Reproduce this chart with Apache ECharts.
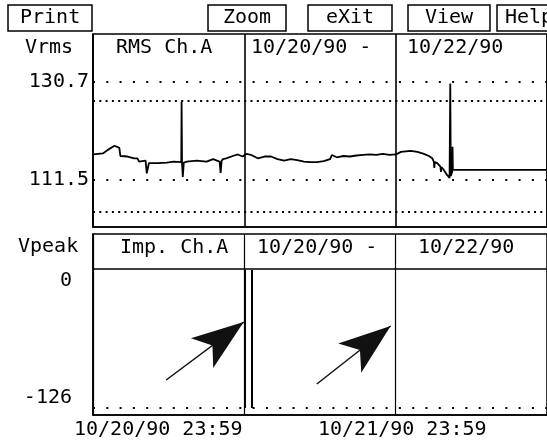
<!DOCTYPE html>
<html>
<head>
<meta charset="utf-8">
<script src="https://cdn.jsdelivr.net/npm/echarts@6/dist/echarts.min.js"></script>
<style>
html,body{margin:0;padding:0;background:#fff;}
#c{width:547px;height:442px;}
</style>
</head>
<body>
<div id="c"></div>
<script>
// ---- data ----
const buttons = ['Print', 'Zoom', 'eXit', 'View', 'Help'];
const topHeaders = ['RMS Ch.A', '10/20/90 -', '10/22/90'];
const bottomHeaders = ['Imp. Ch.A', '10/20/90 -', '10/22/90'];
const topUnit = 'Vrms';
const bottomUnit = 'Vpeak';
const dateLabels = ['10/20/90 23:59', '10/21/90 23:59'];

// hours since 10/20/90 00:00
const hours = [0, 0.27, 1.57, 2.35, 3.40, 4.18, 4.34, 5.48, 6.53, 7.04, 7.31, 8.34, 8.53, 8.87, 10.17, 11.74, 12.79,
  14.0, 14.05, 14.12, 14.24, 14.4, 14.87, 16.43, 18.0, 19.05, 20.08, 20.24, 20.39, 20.61, 21.13, 22.18, 22.96, 23.74,
  24.26, 25.09, 26.14, 27.19, 28.22, 29.27, 30.32, 31.35, 32.4, 33.45, 34.48, 35.53, 36.58, 37.61, 37.88, 38.66,
  39.71, 40.74, 41.79, 42.84, 43.87, 44.92, 45.97, 47.0, 48.05, 48.83, 50.4, 51.45, 52.48, 53.26, 53.8, 54.05,
  54.13, 54.2, 54.58, 55.1, 55.18, 55.25, 55.61, 56.14, 56.55, 56.66, 56.74, 56.97, 57.02, 57.07, 57.44, 72];
const vrms = [116.5, 116.6, 116.7, 117.4, 118.2, 117.8, 116.2, 116.1, 115.75, 115.75, 115.1, 115.3, 112.8, 114.8, 114.8, 114.9, 115.1,
  115.0, 126.8, 114.8, 112.1, 114.9, 115.1, 115.3, 115.1, 115.6, 115.1, 112.9, 115.2, 115.6, 115.75, 116.2, 116.5, 116.1,
  116.6, 116.4, 115.75, 116.1, 116.1, 115.6, 115.3, 115.6, 115.4, 115.1, 115.0, 115.0, 115.2, 115.6, 116.4, 115.95,
  116.2, 116.1, 116.3, 116.4, 116.5, 116.4, 116.6, 116.4, 116.5, 117.0, 117.2, 117.0, 116.6, 116.2, 115.75, 115.1,
  113.85, 115.0, 114.8, 114.1, 113.1, 114.05, 113.5, 112.5, 111.9, 130.4, 112.3, 113.1, 118.0, 113.5, 113.5, 113.5];

const rmsTickLabels = [130.7, 111.5];
const rmsRefSparse = [130.7, 111.5];
const rmsRefDense = [127.0, 105.2];

const impTickLabels = [0, -126];
const impRefSparse = [-136.8];
const impulseTimes = [24.1, 25.2];
const impulseFrom = [11.8, 11.8];
const impulseTo = [-136.8, -136.8];
const arrowFrom = [[11.6, -106.6], [35.5, -110.9]];
const arrowTo = [[23.9, -44.2], [47.2, -48.5]];

// ---- chart ----
const FONT = 'DejaVu Sans Mono';
const txt = {fontFamily: FONT, fontSize: 20, fontWeight: 'normal', color: '#000'};
const chart = echarts.init(document.getElementById('c'), null, {renderer: 'canvas'});

const btnLayout = [
  {left: 8, pad: 12}, {left: 208, pad: 15}, {left: 308, pad: 18}, {left: 408, pad: 17}, {left: 497, pad: 8}
];
const titles = [];
buttons.forEach((b, i) => titles.push({
  text: b, left: btnLayout[i].left, top: 5, padding: [3, btnLayout[i].pad, 3, btnLayout[i].pad],
  borderColor: '#000', borderWidth: 1.5, textStyle: txt
}));
titles.push({text: topUnit, left: 25, top: 38, padding: 0, textStyle: txt});
const topHeadLeft = [116, 251, 407];
topHeaders.forEach((h, i) => titles.push({text: h, left: topHeadLeft[i], top: 38, padding: 0, textStyle: txt}));
titles.push({text: bottomUnit, left: 18, top: 237, padding: 0, textStyle: txt});
const botHeadLeft = [120, 257, 418];
bottomHeaders.forEach((h, i) => titles.push({text: h, left: botHeadLeft[i], top: 238, padding: 0, textStyle: txt}));
const dateLeft = [74, 318];
dateLabels.forEach((d, i) => titles.push({text: d, left: dateLeft[i], top: 420, padding: 0, textStyle: txt}));

const sparse = {color: '#000', width: 2, type: [2, 11.3], cap: 'butt'};
const dense = {color: '#000', width: 2, type: [2, 4.3], cap: 'butt'};

function refLines(vals, style) {
  return vals.map(v => ({yAxis: v, lineStyle: style}));
}

const option = {
  animation: false,
  backgroundColor: '#fff',
  title: titles,
  grid: [
    {left: 93, top: 34, width: 460, height: 193, show: true, borderColor: '#000', borderWidth: 1.5, containLabel: false},
    {left: 93, top: 234, width: 460, height: 181, show: true, borderColor: '#000', borderWidth: 1.5, containLabel: false}
  ],
  xAxis: [
    {type: 'value', gridIndex: 0, min: 0, max: 72, interval: 24,
      axisLine: {show: true, onZero: false, lineStyle: {color: '#000', width: 1.5}}, axisTick: {show: false}, axisLabel: {show: false},
      splitLine: {show: true, lineStyle: {color: '#000', width: 1.6}}},
    {type: 'value', gridIndex: 1, min: 0, max: 72, interval: 24,
      axisLine: {show: true, onZero: false, lineStyle: {color: '#000', width: 1.5}}, axisTick: {show: false}, axisLabel: {show: false},
      splitLine: {show: true, lineStyle: {color: '#000', width: 1.2}}}
  ],
  yAxis: [
    {type: 'value', gridIndex: 0, min: 102.29, max: 140.1,
      axisLine: {show: true, onZero: false, lineStyle: {color: '#000', width: 1.5}}, axisTick: {show: false},
      splitLine: {show: false},
      axisLabel: {show: true, customValues: rmsTickLabels, margin: 4, fontFamily: FONT, fontSize: 20, color: '#000'}},
    {type: 'value', gridIndex: 1, min: -144.3, max: 50.6,
      axisLine: {show: true, onZero: false, lineStyle: {color: '#000', width: 1.5}}, axisTick: {show: false},
      splitLine: {show: false},
      axisLabel: {show: true, customValues: impTickLabels, margin: 21, fontFamily: FONT, fontSize: 20, color: '#000'}}
  ],
  graphic: [
    {type: 'line', shape: {x1: 93, y1: 269, x2: 547, y2: 269}, style: {stroke: '#000', lineWidth: 1.5}, silent: true}
  ],
  series: [
    {
      name: 'RMS Ch.A', type: 'line', xAxisIndex: 0, yAxisIndex: 0,
      data: hours.map((h, i) => [h, vrms[i]]),
      showSymbol: false, symbol: 'none', smooth: false,
      lineStyle: {color: '#000', width: 1.8}, silent: true, clip: true,
      markLine: {silent: true, symbol: ['none', 'none'], label: {show: false}, animation: false,
        data: refLines(rmsRefSparse, sparse).concat(refLines(rmsRefDense, dense))}
    },
    {
      name: 'Impulses', type: 'scatter', xAxisIndex: 1, yAxisIndex: 1,
      data: impulseTimes.map((t, i) => [t, impulseTo[i]]), symbolSize: 0, silent: true,
      markLine: {silent: true, symbol: ['none', 'none'], label: {show: false}, animation: false,
        lineStyle: {color: '#000', width: 2, type: 'solid'},
        data: impulseTimes.map((t, i) => [{coord: [t, impulseFrom[i]]}, {coord: [t, impulseTo[i]]}])
          .concat(refLines(impRefSparse, sparse))}
    },
    {
      name: 'Arrows', type: 'scatter', xAxisIndex: 1, yAxisIndex: 1,
      data: arrowTo, symbolSize: 0, silent: true,
      markLine: {silent: true, symbol: ['none', 'arrow'], label: {show: false}, animation: false,
        lineStyle: {color: '#111', width: 1.5, type: 'solid'},
        data: arrowFrom.map((f, i) => [{coord: f, symbol: 'none'}, {coord: arrowTo[i], symbol: 'arrow', symbolSize: [28, 52]}])}
    }
  ]
};
chart.setOption(option);
</script>
</body>
</html>
